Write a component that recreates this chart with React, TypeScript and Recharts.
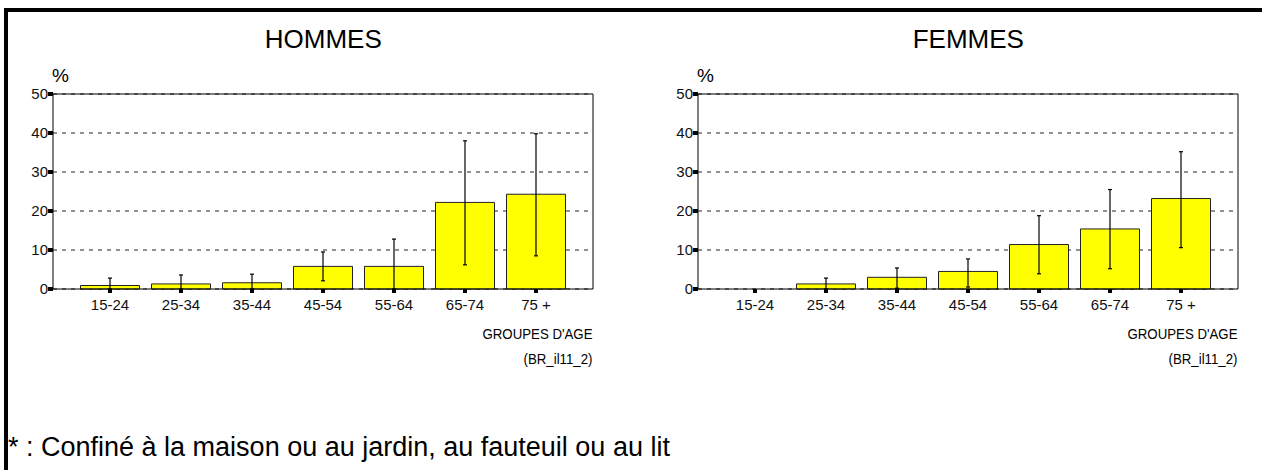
import { BarChart, Bar, XAxis, YAxis, CartesianGrid, ErrorBar, ReferenceLine } from 'recharts';

const categories = ['15-24', '25-34', '35-44', '45-54', '55-64', '65-74', '75 +'];
const yTicks = [0, 10, 20, 30, 40, 50];

// pourcentages et intervalles de confiance (bornes basse / haute)
const hommesPct = [0.9, 1.3, 1.6, 5.8, 5.8, 22.2, 24.3];
const hommesLow = [0, 0, 0, 2.1, 0, 6.2, 8.5];
const hommesHigh = [2.8, 3.6, 3.8, 9.5, 12.8, 38.0, 39.8];

const femmesPct = [0, 1.3, 3.0, 4.5, 11.4, 15.4, 23.2];
const femmesLow = [null, 0, 0.2, 0.5, 3.9, 5.2, 10.6];
const femmesHigh = [null, 2.8, 5.4, 7.7, 18.8, 25.5, 35.2];

const FONT = '"Liberation Sans", Arial, sans-serif';

function buildRows(pct: number[], low: (number | null)[], high: (number | null)[]) {
  return categories.map((cat, i) => ({
    cat,
    pct: pct[i],
    err: low[i] == null || high[i] == null ? null : [pct[i] - (low[i] as number), (high[i] as number) - pct[i]],
  }));
}

interface PanelProps {
  title: string;
  rows: { cat: string; pct: number; err: number[] | null }[];
  left: number;
}

function Panel({ title, rows, left }: PanelProps) {
  return (
    <div style={{ position: 'absolute', left, top: 0, width: 620, height: 470 }}>
      <BarChart
        width={620}
        height={470}
        data={rows}
        margin={{ top: 94, right: 7, bottom: 151, left: 3 }}
        barSize={59}
      >
        <CartesianGrid vertical={false} stroke="#222" strokeDasharray="4 5" />
        <XAxis
          dataKey="cat"
          height={30}
          padding={{ left: 21.5, right: 21.5 }}
          axisLine={{ stroke: '#000' }}
          tickLine={{ stroke: '#000', strokeWidth: 4 }}
          tickSize={4}
          tickMargin={6}
          tick={{ fill: '#111', fontSize: 15, fontFamily: FONT }}
          interval={0}
        />
        <YAxis
          width={50}
          domain={[0, 50]}
          ticks={yTicks}
          axisLine={{ stroke: '#000' }}
          tickLine={{ stroke: '#000', strokeWidth: 4 }}
          tickSize={5}
          tickMargin={0}
          tick={{ fill: '#111', fontSize: 15, fontFamily: FONT }}
        />
        <YAxis
          yAxisId="r"
          orientation="right"
          width={20}
          domain={[0, 50]}
          ticks={yTicks}
          tick={false}
          tickLine={false}
          axisLine={{ stroke: '#000' }}
        />
        <ReferenceLine y={50} stroke="#000" />
        <Bar dataKey="pct" fill="#ffff00" stroke="#222" strokeWidth={1} isAnimationActive={false}>
          <ErrorBar dataKey="err" width={2} stroke="#000" strokeWidth={1.2} direction="y" isAnimationActive={false} />
        </Bar>
      </BarChart>
      <svg width={620} height={470} style={{ position: 'absolute', left: 0, top: 0, pointerEvents: 'none' }}>
        <g fontFamily={FONT} fill="#000">
          <text x={323.3} y={48} fontSize={26} textAnchor="middle">{title}</text>
          <text x={52} y={81.5} fontSize={19}>%</text>
          <text x={592.5} y={339.3} fontSize={15} textAnchor="end" textLength={110} lengthAdjust="spacingAndGlyphs">GROUPES D'AGE</text>
          <text x={592.5} y={363.5} fontSize={14} textAnchor="end" textLength={69} lengthAdjust="spacingAndGlyphs">(BR_il11_2)</text>
        </g>
      </svg>
    </div>
  );
}

export default function App() {
  const hommes = buildRows(hommesPct, hommesLow, hommesHigh);
  const femmes = buildRows(femmesPct, femmesLow, femmesHigh);
  return (
    <div style={{ position: 'absolute', left: 0, top: 0, width: 1262, height: 470, background: '#fff', overflow: 'hidden' }}>
      <Panel title="HOMMES" rows={hommes} left={0} />
      <Panel title="FEMMES" rows={femmes} left={645} />
      <svg width={1262} height={470} style={{ position: 'absolute', left: 0, top: 0, pointerEvents: 'none' }}>
        <rect x={4} y={8} width={1258} height={4} fill="#000" />
        <rect x={4} y={8} width={4} height={462} fill="#000" />
        <text x={8} y={456} fontSize={27} fontFamily={FONT} fill="#000">* : Confiné à la maison ou au jardin, au fauteuil ou au lit</text>
      </svg>
    </div>
  );
}
